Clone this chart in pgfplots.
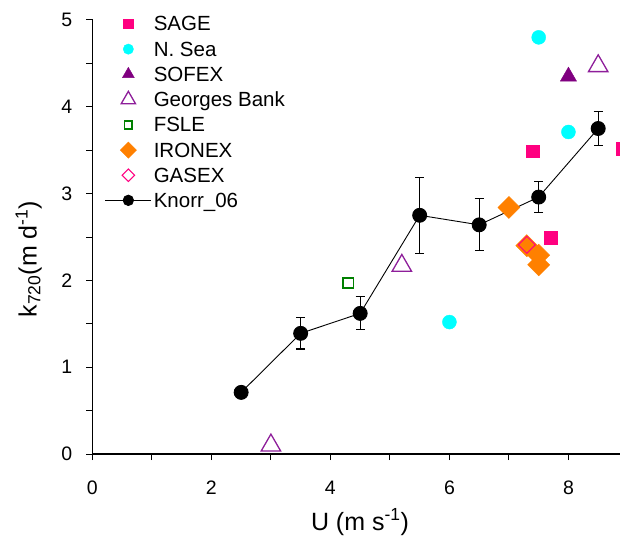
\documentclass[border=0pt]{standalone}
\usepackage{fontspec}
\setmainfont{Liberation Sans}
\usepackage{pgfplots}
\pgfplotsset{compat=1.18}
\usetikzlibrary{calc}
\definecolor{sage}{HTML}{FF0080}
\definecolor{nsea}{HTML}{00FFFF}
\definecolor{sofex}{HTML}{800080}
\definecolor{gbank}{HTML}{8E1E9A}
\definecolor{fsle}{HTML}{008000}
\definecolor{ironex}{HTML}{FF8000}
\definecolor{gasex}{HTML}{FF0080}
\begin{document}
\begin{tikzpicture}
\begin{axis}[
  name=ax,
  scale only axis,
  width=527.8pt, height=434pt,
  xmin=0, xmax=8.87, ymin=0, ymax=5,
  xtick pos=bottom, ytick pos=left,
  tick align=outside,
  major tick length=6pt, minor tick length=6pt,
  every tick/.append style={line width=1pt, black},
  axis line style={line width=1.1pt},
  separate axis lines,
  every outer x axis line/.append style={draw=none},
  every outer y axis line/.append style={draw=none},
  xtick={0,2,4,6,8}, minor xtick={1,3,5,7},
  ytick={0,1,2,3,4,5}, minor ytick={0.5,1.5,2.5,3.5,4.5},
  /pgf/number format/assume math mode=true,
  tick label style={font=\fontsize{19.5}{22}\selectfont},
  xticklabel style={anchor=base, yshift=-34pt},
  yticklabel style={anchor=east, inner sep=0pt, xshift=-14pt},
  xlabel={U (m s\textsuperscript{-1})},
  ylabel={k\textsubscript{720}(m d\textsuperscript{-1})},
  label style={font=\fontsize{25}{28}\selectfont},
  xlabel style={at={(axis description cs:0.5,0)}, anchor=base, yshift=-76pt, xshift=3.7pt},
  ylabel style={at={(axis description cs:-0.1055,0.4493)}, anchor=base},
  clip=false,
  legend image code/.code={\draw[mark repeat=2,mark phase=2,#1, every mark/.append style={scale=0.74}] plot coordinates {(0pt,0pt) (23pt,0pt) (46pt,0pt)};},
  legend style={draw=none, fill=none, at={(axis description cs:0,1)}, anchor=north west,
    xshift=9.3pt, yshift=7.6pt, font=\fontsize{20.5}{24}\selectfont,
    cells={anchor=west}, nodes={inner sep=2pt, text depth=0.5pt},
    inner xsep=3pt, inner ysep=2pt, row sep=6.3pt,
    /tikz/every even column/.append style={column sep=4.3pt}},
]
\addplot[only marks, mark=square*, mark size=6.3pt, color=sage, mark options={fill=sage, draw=sage}]
  coordinates {(7.4,3.49) (8.9,3.52) (7.7,2.49)};
\addlegendentry{SAGE}
\addplot[only marks, mark=*, mark size=7pt, color=nsea, mark options={fill=nsea, draw=nsea}]
  coordinates {(7.5,4.80) (8.0,3.71) (6.0,1.52)};
\addlegendentry{N. Sea}
\addplot[only marks, mark=triangle*, mark size=9.3pt, color=sofex, mark options={fill=sofex, draw=sofex}]
  coordinates {(8.0,4.35)};
\addlegendentry{SOFEX}
\addplot[only marks, mark=triangle, mark size=11.2pt, color=gbank, mark options={draw=gbank, line width=1.3pt}]
  coordinates {(8.5,4.47) (5.2,2.17) (3.0,0.10)};
\addlegendentry{Georges Bank}
\addplot[only marks, mark=square, mark size=5.2pt, color=fsle, mark options={draw=fsle, line width=1.5pt}]
  coordinates {(4.3,1.97)};
\addlegendentry{FSLE}
\addplot[only marks, mark=square*, mark size=7.8pt, color=ironex, mark options={fill=ironex, draw=ironex, rotate=45}]
  coordinates {(7.0,2.84) (7.3,2.40) (7.5,2.29) (7.5,2.18)};
\addlegendentry{IRONEX}
\addplot[only marks, mark=square, mark size=6pt, color=gasex, mark options={draw=gasex, line width=1pt, rotate=45}]
  coordinates {(7.3,2.41)};
\addlegendentry{GASEX}
\addplot[black, line width=0.9pt, mark=*, mark size=7pt, mark options={solid, fill=black},
  error bars/.cd, y dir=both, y explicit,
  error bar style={line width=1.1pt, black},
  error mark options={rotate=90, mark size=4.5pt, line width=1.1pt, black}]
  table[x=x, y=y, y error=e] {
x   y    e
2.5 0.71 0
3.5 1.39 0.18
4.5 1.62 0.19
5.5 2.75 0.44
6.5 2.64 0.30
7.5 2.96 0.18
8.5 3.75 0.20
};
\addlegendentry{Knorr\_06}
\end{axis}
\draw[line width=1.1pt, line cap=rect] (ax.north west) -- (ax.south west) -- (ax.south east);
\foreach \i in {0,...,8}
  \draw[line width=1pt] ($(ax.south west)+(\i*59.504pt,0pt)$) -- ++(0pt,-6pt);
\foreach \j in {0,...,10}
  \draw[line width=1pt] ($(ax.south west)+(0pt,\j*43.4pt)$) -- ++(-6pt,0pt);
\pgfresetboundingbox
\path ($(ax.south west)+(-92.4pt,-82pt)$) rectangle ($(ax.south west)+(527.6pt,454pt)$);
\end{tikzpicture}
\end{document}
